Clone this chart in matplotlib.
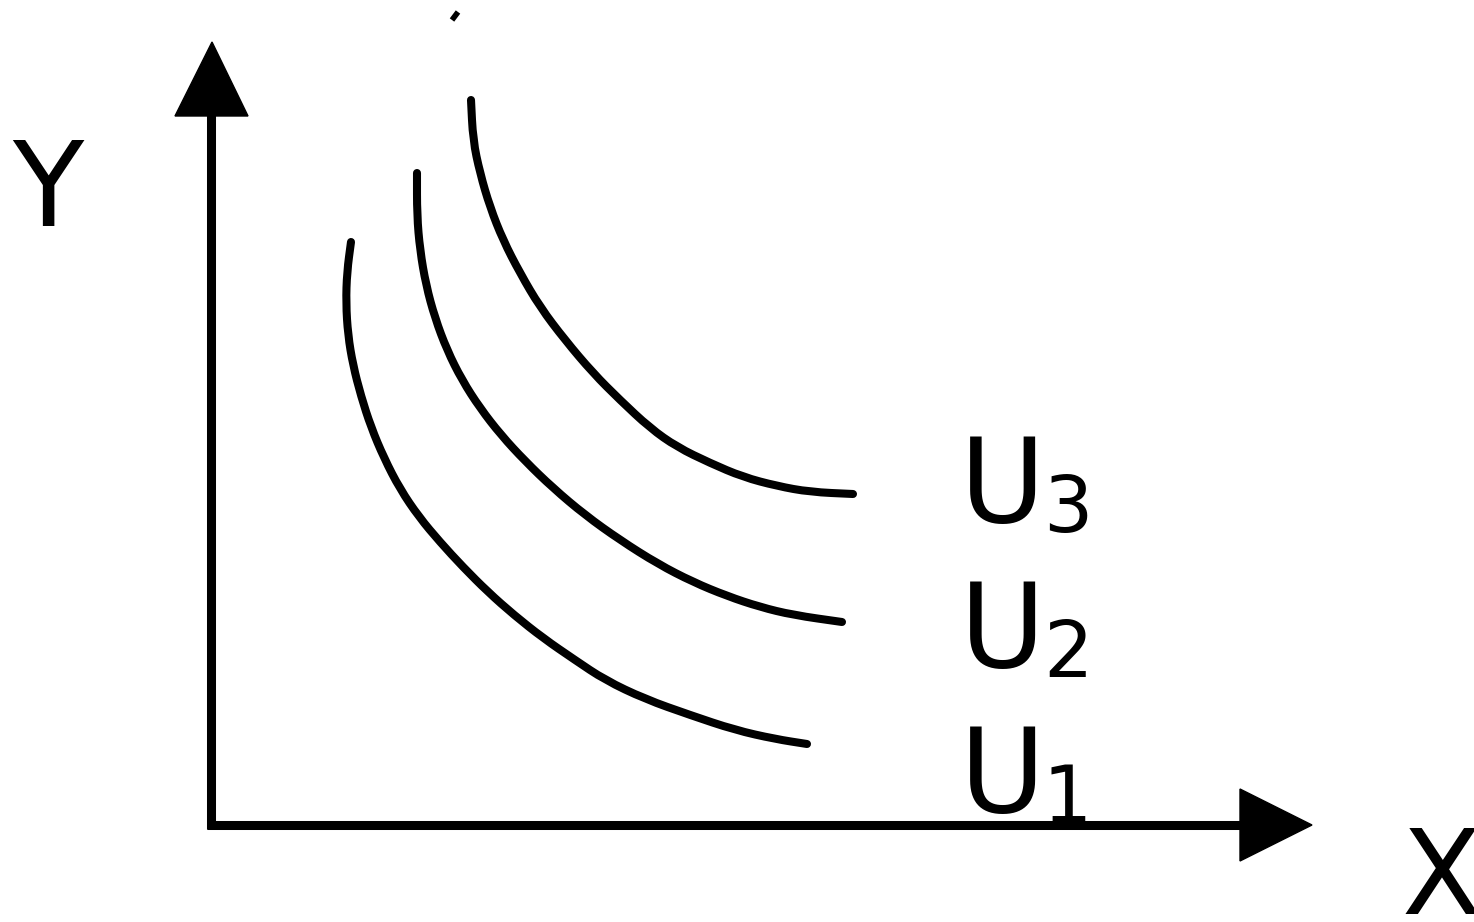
import numpy as np
import matplotlib.pyplot as plt
from matplotlib.patches import Polygon, PathPatch
from matplotlib.path import Path

# indifference curves, points (pixel units, y down)
U1_X = [351, 347, 346, 348, 353, 361, 371, 384, 400, 419, 440, 463, 488, 514, 543, 575,
        605, 645, 690, 735, 775, 807]
U1_Y = [242, 272, 303, 335, 365, 396, 427, 458, 489, 517, 542, 567, 592, 615, 638, 660,
        680, 699, 715, 730, 739, 744]
U2_X = [417, 417, 420, 426, 435, 447, 462, 480, 501, 525, 553, 585, 620, 658, 693, 727,
        760, 793, 842]
U2_Y = [173, 215, 250, 285, 318, 350, 380, 408, 435, 461, 488, 515, 540, 564, 582, 596,
        607, 615, 622]
U3_X = [471, 473, 480, 490, 503, 520, 540, 565, 593, 620, 650, 677, 710, 743, 777, 810, 853]
U3_Y = [100, 140, 173, 207, 240, 273, 307, 340, 373, 400, 428, 447, 463, 477, 486, 492, 494]

CURVES = [(U1_X, U1_Y), (U2_X, U2_Y), (U3_X, U3_Y)]
LABELS = ['1', '2', '3']
LABEL_Y = [812, 667, 522]   # baseline of the "U" for each curve

W, H = 1474, 922
fig = plt.figure(figsize=(W / 100, H / 100), dpi=100)
ax = fig.add_axes([0, 0, 1, 1])
ax.set_xlim(0, W)
ax.set_ylim(H, 0)
ax.axis('off')

# axes with arrow heads
ax.plot([211, 211], [110, 829], color='black', lw=6.5, solid_capstyle='butt')
ax.plot([207, 1245], [825, 825], color='black', lw=6.5, solid_capstyle='butt')
ax.add_patch(Polygon([[175, 116], [248, 116], [212, 42]], closed=True, color='black'))
ax.add_patch(Polygon([[1240, 789], [1240, 861], [1312, 825]], closed=True, color='black'))


def smooth_path(xs, ys):
    # quadratic b-spline style path: read points act as control points
    p = np.column_stack([xs, ys]).astype(float)
    verts = [p[0], (p[0] + p[1]) / 2]
    codes = [Path.MOVETO, Path.LINETO]
    for i in range(1, len(p) - 1):
        verts += [p[i], (p[i] + p[i + 1]) / 2]
        codes += [Path.CURVE3, Path.CURVE3]
    verts.append(p[-1])
    codes.append(Path.LINETO)
    return Path(verts, codes)


for xs, ys in CURVES:
    ax.add_patch(PathPatch(smooth_path(xs, ys), fill=False, edgecolor='black',
                           lw=5.8, capstyle='round', joinstyle='round'))

for sub, yb in zip(LABELS, LABEL_Y):
    ax.text(960, yb, 'U', fontsize=84, va='baseline', ha='left', color='black')
    ax.text(1043, yb + 10, sub, fontsize=56, va='baseline', ha='left', color='black')

ax.text(12, 226, 'Y', fontsize=84, va='baseline', ha='left', color='black')
ax.text(1402, 914, 'X', fontsize=84, va='baseline', ha='left', color='black')

# small stray mark at the top edge
ax.plot([452, 458], [20, 12], color='black', lw=4, solid_capstyle='butt')

fig.savefig('out.png', dpi=100)
